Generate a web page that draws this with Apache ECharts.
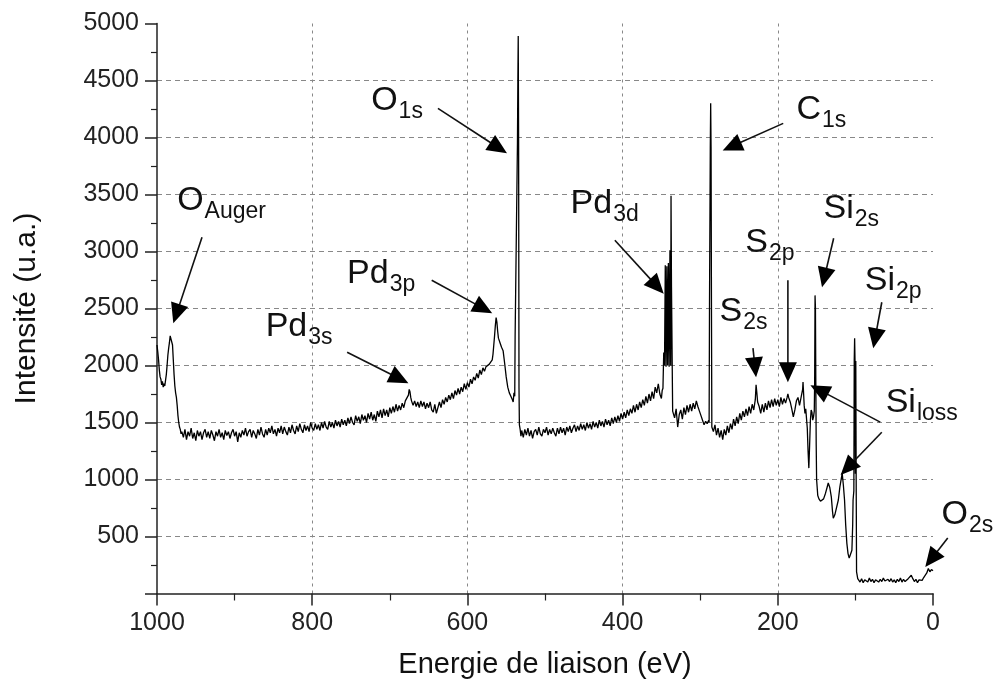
<!DOCTYPE html>
<html>
<head>
<meta charset="utf-8">
<title>Spectre XPS</title>
<script src="https://cdn.jsdelivr.net/npm/echarts@6/dist/echarts.min.js"></script>
<style>
html, body { margin: 0; padding: 0; background: #fff; }
#container { width: 1000px; height: 687px; }
</style>
</head>
<body>
<div id="container"></div>
<script>
// spectre : [energie de liaison (eV), intensite (u.a.)]
var spectrum = [
  [1000,2180],[999,2120],[998,2050],[997,1960],[996,1900],[995,1880],[994,1830],[993,1860],[992,1810],[991,1840],
  [990,1820],[989,1870],[988,1920],[987,2000],[986,2090],[985,2150],[984,2200],[983,2260],[982,2250],[981,2270],
  [980,2180],[979,2050],[978,1920],[977,1820],[976,1760],[975,1720],[974,1650],[973,1560],[972,1500],[971,1460],
  [970,1440],[969,1400],[968,1420],[966,1370],[964,1440],[962,1350],[960,1420],[958,1380],[956,1450],[954,1360],
  [952,1410],[950,1340],[948,1430],[946,1380],[944,1420],[942,1350],[940,1410],[938,1440],[936,1370],[934,1420],
  [932,1360],[930,1430],[928,1390],[926,1340],[924,1420],[922,1380],[920,1440],[918,1370],[916,1410],[914,1350],
  [912,1430],[910,1385],[908,1420],[906,1360],[904,1410],[902,1440],[900,1380],[898,1420],[896,1330],[894,1410],
  [892,1370],[890,1430],[888,1390],[886,1450],[884,1380],[882,1420],[880,1440],[878,1370],[876,1430],[874,1400],
  [872,1360],[870,1440],[868,1390],[866,1460],[864,1400],[862,1370],[860,1440],[858,1390],[856,1450],[854,1410],
  [852,1470],[850,1400],[848,1440],[846,1380],[844,1450],[842,1410],[840,1470],[838,1400],[836,1460],[834,1420],
  [832,1390],[830,1460],[828,1410],[826,1480],[824,1430],[822,1400],[820,1470],[818,1420],[816,1490],[814,1440],
  [812,1410],[810,1480],[808,1430],[806,1470],[804,1420],[802,1500],[800,1450],[798,1430],[796,1490],[794,1440],
  [792,1480],[790,1430],[788,1500],[786,1450],[784,1510],[782,1460],[780,1440],[778,1510],[776,1460],[774,1500],
  [772,1450],[770,1520],[768,1470],[766,1510],[764,1460],[762,1530],[760,1480],[758,1520],[756,1470],[754,1540],
  [752,1490],[750,1550],[748,1500],[746,1480],[744,1560],[742,1510],[740,1550],[738,1490],[736,1570],[734,1520],
  [732,1560],[730,1500],[728,1580],[726,1530],[724,1590],[722,1520],[720,1570],[718,1510],[716,1600],[714,1550],
  [712,1610],[710,1540],[708,1620],[706,1560],[704,1610],[702,1550],[700,1630],[698,1580],[696,1640],[694,1590],
  [692,1660],[690,1600],[688,1650],[686,1610],[684,1670],[682,1630],[680,1690],[678,1700],[676,1740],[675,1790],
  [674,1770],[673,1720],[672,1690],[670,1650],[668,1690],[666,1640],[664,1680],[662,1630],[660,1690],[658,1640],
  [656,1680],[654,1620],[652,1670],[650,1630],[648,1680],[646,1610],[644,1590],[642,1660],[640,1580],[638,1630],
  [636,1680],[634,1630],[632,1700],[630,1660],[628,1720],[626,1680],[624,1740],[622,1700],[620,1760],[618,1710],
  [616,1780],[614,1740],[612,1800],[610,1750],[608,1810],[606,1770],[604,1840],[602,1790],[600,1850],[598,1810],
  [596,1880],[594,1840],[592,1900],[590,1870],[588,1930],[586,1890],[584,1960],[582,1920],[580,1980],[578,1950],
  [576,1990],[574,1980],[572,2010],[570,2000],[568,2050],[567,2100],[566,2180],[565,2260],[564,2350],[563,2420],
  [562,2380],[561,2300],[560,2240],[558,2200],[556,2160],[554,2130],[552,2020],[550,1900],[548,1810],[546,1760],
  [544,1730],[542,1700],[541,1680],[540,1760],[539,1730],[538.5,2265],[537,2270],[536,2250],[535.5,3950],[535,4470],
  [534.5,4890],[534,3950],[533.5,1800],[533,1480],[532,1440],[531,1380],[530,1430],[528,1370],[526,1440],[524,1390],
  [522,1450],[520,1380],[518,1430],[516,1360],[514,1420],[512,1440],[510,1390],[508,1460],[506,1400],[504,1380],
  [502,1440],[500,1410],[498,1460],[496,1390],[494,1440],[492,1400],[490,1450],[488,1410],[486,1380],[484,1450],
  [482,1400],[480,1460],[478,1410],[476,1450],[474,1390],[472,1460],[470,1420],[468,1470],[466,1410],[464,1450],
  [462,1480],[460,1420],[458,1470],[456,1430],[454,1490],[452,1440],[450,1480],[448,1430],[446,1500],[444,1450],
  [442,1490],[440,1440],[438,1510],[436,1460],[434,1500],[432,1450],[430,1520],[428,1470],[426,1510],[424,1460],
  [422,1530],[420,1480],[418,1520],[416,1470],[414,1540],[412,1490],[410,1550],[408,1500],[406,1560],[404,1510],
  [402,1580],[400,1530],[398,1590],[396,1540],[394,1610],[392,1560],[390,1620],[388,1580],[386,1650],[384,1590],
  [382,1660],[380,1610],[378,1680],[376,1630],[374,1700],[372,1650],[370,1730],[368,1670],[366,1750],[364,1690],
  [362,1770],[360,1710],[358,1810],[356,1760],[354,1840],[352,1750],[350,1710],[349,1780],[348,1800],[347,2115],
  [346,2000],[345,2880],[344,1990],[343,2870],[342,2000],[341,2900],[340,1990],[339,3010],[338,2000],[337.6,3490],
  [337,2690],[336,2690],[335.5,1600],[335,1590],[333,1540],[331,1620],[329,1460],[327,1570],[325,1610],[323,1530],
  [321,1630],[319,1570],[317,1650],[315,1590],[313,1660],[311,1600],[309,1670],[307,1620],[305,1690],[303,1640],
  [301,1600],[299,1560],[297,1520],[295,1480],[293,1510],[291,1490],[289,1520],[288.5,1500],[288,2545],[287.5,2550],
  [287,3915],[286.5,4300],[286,3915],[285.5,2545],[285,1460],[283,1420],[281,1480],[279,1390],[277,1450],[275,1370],
  [273,1430],[271,1350],[269,1440],[267,1390],[265,1470],[263,1410],[261,1490],[259,1440],[257,1530],[255,1470],
  [253,1550],[251,1490],[249,1580],[247,1520],[245,1600],[243,1550],[241,1620],[239,1560],[237,1640],[235,1580],
  [233,1660],[231,1610],[229,1700],[228,1830],[227,1760],[226,1680],[224,1640],[222,1580],[220,1660],[218,1590],
  [216,1670],[214,1610],[212,1690],[210,1630],[208,1700],[206,1640],[204,1710],[202,1650],[200,1700],[198,1640],
  [196,1720],[194,1660],[192,1710],[190,1670],[188,1720],[187,1750],[186,1720],[184,1680],[182,1620],[180,1550],
  [178,1610],[176,1690],[174,1720],[172,1650],[170,1720],[168,1790],[167.5,1855],[167,1790],[166,1650],[165,1580],
  [164,1620],[163,1635],[162,1450],[161,1250],[160,1100],[159,1300],[158,1520],[157,1610],[156,1590],[155,1520],
  [154,1550],[153,1600],[152.5,1850],[152,2615],[151.5,2510],[151,1850],[150.5,1300],[150,1000],[148.5,860],[147,830],
  [145,810],[142.5,795],[141,830],[138.5,880],[136.5,930],[135,970],[133,930],[131,845],[129.5,720],[128.5,660],
  [126.5,690],[124,705],[122,820],[120,935],[117,1055],[115.5,950],[114,820],[112.5,600],[111,440],[109.5,350],
  [108,310],[106.5,340],[104.5,380],[103.5,600],[103,820],[102,900],[101.5,2045],[101,2240],[100.5,2045],[100,1050],
  [99.5,2040],[99,1000],[98.5,190],[97,130],[96,118],[94,100],[92,130],[90,95],[88,120],[86,125],
  [84,100],[82,135],[80,105],[78,125],[76,95],[74,120],[72,130],[70,100],[68,125],[66,105],
  [64,135],[62,110],[60,95],[58,125],[56,105],[54,130],[52,100],[50,120],[48,95],[46,125],
  [44,105],[42,135],[40,100],[38,125],[36,105],[34,95],[32,130],[30,140],[28,160],[26,130],
  [24,105],[22,125],[20,95],[18,120],[16,135],[14,115],[12,140],[10,150],[8,180],[6,220],
  [4,190],[2,210],[0,200]
];

var xRange = [0, 1000];
var yRange = [0, 5000];

// annotations des pics
var peakNames = ['O', 'Pd', 'Pd', 'O', 'Pd', 'C', 'S', 'S', 'Si', 'Si', 'Si', 'O'];
var peakSubs = ['Auger', '3s', '3p', '1s', '3d', '1s', '2s', '2p', '2s', '2p', 'loss', '2s'];
var labelAt = [[974, 3449], [860, 2344], [755, 2809], [724, 4325], [467, 3422], [176, 4246],
               [275, 2476], [242, 3081], [141, 3379], [88, 2748], [61, 1670], [-11, 690]];
var arrowFrom = [[942, 3124], [755, 2117], [646, 2748], [638, 4255], [410, 3098], [193, 4124],
                 [232, 2152], [187, 2748], [128, 3116], [66, 2555], [68, 1503], [66, 1415], [-19, 486]];
var arrowTo = [[979, 2371], [676, 1845], [568, 2458], [549, 3861], [347, 2630], [271, 3887],
               [228, 1897], [187, 1854], [143, 2686], [77, 2152], [158, 1827], [119, 1039], [10, 232]];

var FONT = '"Liberation Sans", Arial, sans-serif';
var myChart = echarts.init(document.getElementById('container'));

var option = {
  animation: false,
  backgroundColor: '#fff',
  grid: { left: 157, right: 67, top: 23.5, bottom: 93.5 },
  xAxis: {
    type: 'value',
    inverse: true,
    min: xRange[0], max: xRange[1], interval: 200,
    name: 'Energie de liaison (eV)',
    nameLocation: 'middle',
    nameGap: 57,
    nameTextStyle: { fontFamily: FONT, fontSize: 29, color: '#111' },
    axisLine: { show: true, onZero: false, lineStyle: { color: '#222', width: 1.5 } },
    axisTick: { show: true, length: 12, lineStyle: { color: '#222', width: 1.5 } },
    minorTick: { show: true, splitNumber: 2, length: 7, lineStyle: { color: '#222', width: 1.2 } },
    axisLabel: { margin: 17, fontFamily: FONT, fontSize: 25, color: '#222',
                 formatter: function (v) { return String(v); } },
    splitLine: { show: true, showMinLine: false, showMaxLine: false,
                 lineStyle: { color: '#888', width: 1, type: [3, 4] } }
  },
  yAxis: {
    type: 'value',
    min: yRange[0], max: yRange[1], interval: 500,
    name: 'Intensité (u.a.)',
    nameLocation: 'middle',
    nameGap: 115,
    nameTextStyle: { fontFamily: FONT, fontSize: 30, color: '#111' },
    axisLine: { show: true, onZero: false, lineStyle: { color: '#222', width: 1.5 } },
    axisTick: { show: true, length: 12, lineStyle: { color: '#222', width: 1.5 } },
    minorTick: { show: true, splitNumber: 2, length: 6, lineStyle: { color: '#222', width: 1.2 } },
    axisLabel: { margin: 18, fontFamily: FONT, fontSize: 25, color: '#222', showMinLabel: false,
                 formatter: function (v) { return v === 0 ? '' : String(v); } },
    splitLine: { show: true, showMinLine: false, showMaxLine: false,
                 lineStyle: { color: '#888', width: 1, type: [5, 4] } }
  },
  series: [{
    type: 'line',
    data: spectrum,
    showSymbol: false,
    symbol: 'none',
    smooth: false,
    lineStyle: { color: '#000', width: 1.3 },
    z: 3
  }]
};
myChart.setOption(option);

// fleches + etiquettes (position via les axes)
var measureCtx = document.createElement('canvas').getContext('2d');
function textWidth(t, size) {
  measureCtx.font = size + 'px ' + FONT;
  return measureCtx.measureText(t).width;
}

function buildGraphics() {
  var els = [];
  for (var i = 0; i < arrowFrom.length; i++) {
    var p0 = myChart.convertToPixel({ gridIndex: 0 }, arrowFrom[i]);
    var p1 = myChart.convertToPixel({ gridIndex: 0 }, arrowTo[i]);
    var dx = p1[0] - p0[0], dy = p1[1] - p0[1];
    var len = Math.sqrt(dx * dx + dy * dy);
    var ux = dx / len, uy = dy / len;
    var hl = 20, hw = 9;
    var bx = p1[0] - ux * hl, by = p1[1] - uy * hl;
    els.push({ type: 'line', z: 10,
      shape: { x1: p0[0], y1: p0[1], x2: bx + ux * 2, y2: by + uy * 2 },
      style: { stroke: '#111', lineWidth: 1.6 } });
    els.push({ type: 'polygon', z: 10,
      shape: { points: [[p1[0], p1[1]], [bx - uy * hw, by + ux * hw], [bx + uy * hw, by - ux * hw]] },
      style: { fill: '#000' } });
  }
  for (var j = 0; j < peakNames.length; j++) {
    var p = myChart.convertToPixel({ gridIndex: 0 }, labelAt[j]);
    var w = textWidth(peakNames[j], 34);
    els.push({ type: 'text', z: 10,
      style: { text: peakNames[j], x: p[0], y: p[1], font: '34px ' + FONT, fill: '#111',
               align: 'left', verticalAlign: 'middle' } });
    els.push({ type: 'text', z: 10,
      style: { text: peakSubs[j], x: p[0] + w + 1, y: p[1] + 11, font: '23px ' + FONT, fill: '#111',
               align: 'left', verticalAlign: 'middle' } });
  }
  return els;
}
myChart.setOption({ graphic: buildGraphics() });
</script>
</body>
</html>
